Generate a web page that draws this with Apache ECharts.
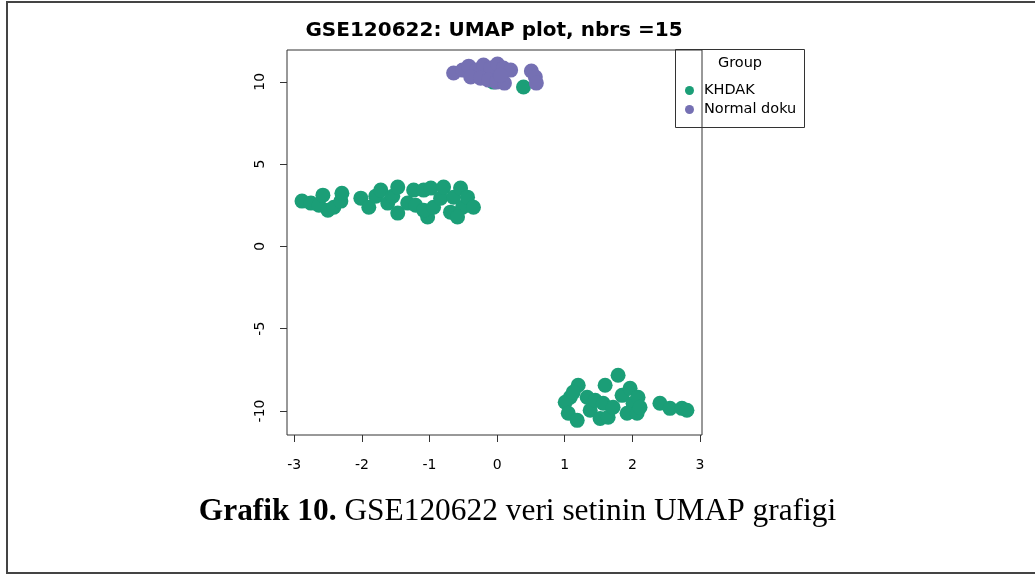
<!DOCTYPE html>
<html>
<head>
<meta charset="utf-8">
<script src="https://cdn.jsdelivr.net/npm/echarts@6/dist/echarts.min.js"></script>
<style>html,body{margin:0;padding:0;background:#fff}#c{width:1035px;height:575px}</style>
</head>
<body>
<div id="c"></div>
<script>
const chartTitle = 'GSE120622: UMAP plot, nbrs =15';
const groupNames = ['KHDAK', 'Normal doku'];
const xTicks = [-3, -2, -1, 0, 1, 2, 3];
const yTicks = [-10, -5, 0, 5, 10];

const khdakX = [0.39, -0.055,
  -2.886, -2.754, -2.636, -2.577, -2.503, -2.415, -2.311, -2.296, -2.016, -1.898, -1.795, -1.721,
  -1.618, -1.544, -1.47, -1.47, -1.323, -1.235, -1.205, -1.087, -1.028, -1.087, -0.98, -0.94,
  -0.836, -0.792, -0.69, -0.645, -0.541, -0.512, -0.586, -0.438, -0.35,
  1.199, 1.081, 1.007, 1.052, 1.184, 1.125, 1.332, 1.376, 1.45, 1.523, 1.568, 1.642, 1.715,
  1.789, 1.597, 1.848, 1.966, 2.01, 2.084, 1.922, 2.07, 2.113, 2.408, 2.556, 2.733, 2.807];
const khdakY = [9.68, 9.98,
  2.75, 2.63, 2.50, 3.11, 2.20, 2.38, 2.75, 3.23, 2.93, 2.38, 3.05, 3.42,
  2.63, 3.05, 3.60, 2.02, 2.63, 3.42, 2.50, 3.42, 1.78, 2.20, 3.54, 2.38,
  2.93, 3.60, 2.08, 2.99, 3.54, 2.38, 1.78, 2.99, 2.38,
  -8.44, -9.17, -9.47, -10.14, -10.57, -8.87, -9.17, -9.96, -9.35, -10.45, -9.53, -10.38, -9.77,
  -7.83, -8.44, -9.05, -8.62, -9.53, -9.17, -10.14, -10.14, -9.77, -9.53, -9.84, -9.84, -9.96];

const normalX = [-0.644, -0.511, -0.42, -0.305, -0.202, -0.098, 0.005, 0.093, 0.2,
  -0.39, -0.245, -0.128, -0.01, 0.108, 0.05, 0.506, 0.565, 0.58];
const normalY = [10.53, 10.71, 10.95, 10.71, 11.02, 10.83, 11.08, 10.83, 10.71,
  10.29, 10.22, 10.10, 9.98, 9.92, 10.4, 10.65, 10.29, 9.92];

const green = '#1B9E77', purple = '#7570B3';
const FONT = '"DejaVu Sans", sans-serif';
const SERIF = '"Liberation Serif", serif';
const pairs = (xs, ys) => xs.map((x, i) => [x, ys[i]]);

const chart = echarts.init(document.getElementById('c'), null, {renderer: 'canvas'});
chart.setOption({
  animation: false,
  backgroundColor: '#fff',
  title: [{
    text: chartTitle,
    left: 494, top: 21, textAlign: 'center', padding: 0,
    textStyle: {fontFamily: FONT, fontSize: 20, fontWeight: 'bold', color: '#000'}
  }, {
    text: '{b|Grafik 10.} {n|GSE120622 veri setinin UMAP grafigi}',
    left: 'center', top: 496, padding: 0,
    textStyle: {
      fontWeight: 'normal', fontFamily: SERIF, fontSize: 31.4,
      rich: {
        b: {fontFamily: SERIF, fontSize: 31.4, fontWeight: 'bold', color: '#000'},
        n: {fontFamily: SERIF, fontSize: 31.4, fontWeight: 'normal', color: '#000'}
      }
    }
  }],
  grid: {left: 287, top: 50, width: 415, height: 385, show: true, borderColor: '#333', borderWidth: 1, backgroundColor: 'transparent'},
  xAxis: {
    type: 'value', min: -3.108, max: 3.03,
    axisLine: {show: false, onZero: false},
    splitLine: {show: false},
    axisTick: {show: true, length: 7, customValues: xTicks, lineStyle: {color: '#333'}},
    axisLabel: {customValues: xTicks, margin: 23, fontFamily: FONT, fontSize: 14, color: '#000'}
  },
  yAxis: {
    type: 'value', min: -11.46, max: 11.93,
    axisLine: {show: false, onZero: false},
    splitLine: {show: false},
    axisTick: {show: true, length: 7, customValues: yTicks, lineStyle: {color: '#333'}},
    axisLabel: {customValues: yTicks, rotate: 90, margin: 20, fontFamily: FONT, fontSize: 14, color: '#000'}
  },
  legend: {
    orient: 'vertical', left: 685, top: 83, itemWidth: 9, itemHeight: 9, itemGap: 4, z: 20,
    icon: 'circle', padding: 0,
    textStyle: {fontFamily: FONT, fontSize: 14.5, color: '#000', padding: [0, 0, 0, 5]},
    data: groupNames
  },
  graphic: [
    {type: 'rect', shape: {x: 7, y: 2, width: 1040, height: 571}, style: {fill: 'none', stroke: '#444', lineWidth: 2}, silent: true},
    {type: 'rect', shape: {x: 675.5, y: 49.5, width: 129, height: 78}, style: {fill: 'none', stroke: '#333', lineWidth: 1}, z: 1},
    {type: 'text', x: 740, y: 63, style: {text: 'Group', fontFamily: FONT, fontSize: 14.5, fill: '#000', align: 'center', verticalAlign: 'middle'}, z: 6}
  ],
  series: [
    {name: groupNames[0], type: 'scatter', symbol: 'circle', symbolSize: 15, itemStyle: {color: green, opacity: 1}, data: pairs(khdakX, khdakY)},
    {name: groupNames[1], type: 'scatter', symbol: 'circle', symbolSize: 15, itemStyle: {color: purple, opacity: 1}, data: pairs(normalX, normalY)}
  ]
});
</script>
</body>
</html>
